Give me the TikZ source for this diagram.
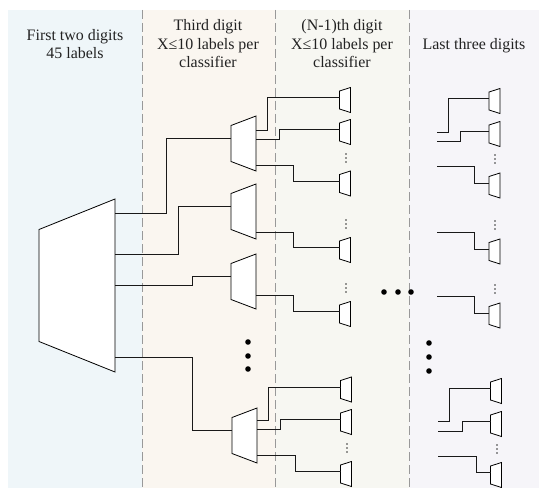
\documentclass[tikz,border=0pt]{standalone}
\usepackage{fontspec}
\setmainfont{Liberation Serif}
\usetikzlibrary{calc}
\definecolor{pA}{HTML}{EFF6F9}
\definecolor{pB}{HTML}{FAF6F0}
\definecolor{pC}{HTML}{F7F7F2}
\definecolor{pD}{HTML}{F6F5F9}
\definecolor{txt}{HTML}{222222}
\begin{document}
\begin{tikzpicture}[x=1bp,y=-1bp,line width=0.8bp,
  clf/.style={draw=black,fill=white,line join=miter},
  wire/.style={draw=black!90,line width=0.8bp},
  lbl/.style={align=center,font=\fontsize{16}{19}\selectfont,text=txt,inner sep=0pt},
  bigdot/.style={fill=black,circle,inner sep=0pt,minimum size=5.6bp},
  smalldot/.style={fill=black!80,circle,inner sep=0pt,minimum size=1.7bp},
  sep/.style={draw=black!40,line width=1bp,dash pattern=on 9bp off 4bp},
  smallclf/.pic={\path[clf] (-5.5,-9) -- (5.5,-12.5) -- (5.5,12.5) -- (-5.5,9) -- cycle;
     \coordinate (-in) at (-5.5,-2.5);},
  midclf/.pic={\path[clf] (-12.5,-18) -- (12.5,-27.5) -- (12.5,27.5) -- (-12.5,18) -- cycle;
     \coordinate (-in) at (-12.5,-5);
     \coordinate (-e) at (12.5,0);},
  bigclf/.pic={\path[clf] (-38,-56) -- (38,-86.5) -- (38,86.5) -- (-38,56) -- cycle;
     \coordinate (-e) at (38,0);},
  vdot/.pic={\node[smalldot] (-a) at (0,-4) {}; \node[smalldot] (-b) at (0,0) {}; \node[smalldot] (-c) at (0,4) {};}
]
\useasboundingbox (0,0) rectangle (539,488);
% panels
\fill[pA] (8,10) rectangle (142,488);
\fill[pB] (142,10) rectangle (275,488);
\fill[pC] (275,10) rectangle (409,488);
\fill[pD] (409,10) rectangle (539,488);
\draw[sep] (142,10) -- (142,488);
\draw[sep] (275,10) -- (275,488);
\draw[sep] (409,10) -- (409,488);
% headings (base anchor = baseline of last line)
\node[lbl,anchor=base] (h1) at (75,59) {First two digits\\45 labels};
\node[lbl,anchor=base] (h2) at (208,68) {Third digit\\X≤10 labels per\\classifier};
\node[lbl,anchor=base] (h3) at (342,68) {(N-1)th digit\\X≤10 labels per\\classifier};
\node[lbl,anchor=base] (h4) at (474,50) {Last three digits};
% first classifier
\pic (B) at (77,285.5) {bigclf};
% third-digit classifiers
\pic (m1) at (243.5,143.5) {midclf};
\pic (m2) at (243.5,211.5) {midclf};
\pic (m3) at (243.5,281.5) {midclf};
\pic (m4) at (244.5,435.5) {midclf};
% (N-1)th digit classifiers
\pic (a) at (345,100) {smallclf};
\pic (b) at (345,132) {smallclf};
\pic (c) at (345,183.5) {smallclf};
\pic (d) at (345,250) {smallclf};
\pic (e) at (345,314) {smallclf};
\pic (f) at (346,389.5) {smallclf};
\pic (g) at (346,422) {smallclf};
\pic (h) at (346,474) {smallclf};
% last digits classifiers
\pic (A) at (494.5,101) {smallclf};
\pic (Bb) at (494.5,134) {smallclf};
\pic (C) at (494.5,185.5) {smallclf};
\pic (D) at (494.5,251.5) {smallclf};
\pic (E) at (494.5,315.5) {smallclf};
\pic (F) at (496,391) {smallclf};
\pic (G) at (496,424) {smallclf};
\pic (H) at (496,475) {smallclf};
% wires: first -> third digit
\draw[wire] ($(B-e)+(0,-72.5)$) -- ++(51,0) |- (m1-in);
\draw[wire] ($(B-e)+(0,-31.5)$) -- ++(63,0) |- (m2-in);
\draw[wire] ($(B-e)+(0,-0.5)$) -- ++(77,0) |- (m3-in);
\draw[wire] ($(B-e)+(0,71.5)$) -- ++(77,0) |- (m4-in);
% third -> (N-1)th
\draw[wire] ($(m1-e)+(0,-13.5)$) -- ++(11,0) |- (a-in);
\draw[wire] ($(m1-e)+(0,-4.5)$) -- ++(23,0) |- (b-in);
\draw[wire] ($(m1-e)+(0,21.5)$) -- ++(37,0) |- (c-in);
\draw[wire] ($(m2-e)+(0,20.5)$) -- ++(37,0) |- (d-in);
\draw[wire] ($(m3-e)+(0,13.5)$) -- ++(37,0) |- (e-in);
\draw[wire] ($(m4-e)+(0,-15.5)$) -- ++(11,0) |- (f-in);
\draw[wire] ($(m4-e)+(0,-6.5)$) -- ++(23,0) |- (g-in);
\draw[wire] ($(m4-e)+(0,19.5)$) -- ++(38,0) |- (h-in);
% free wires into last column
\coordinate (sA) at (437,132);
\coordinate (sB) at (437,141);
\coordinate (sC) at (437,166);
\coordinate (sD) at (437,232);
\coordinate (sE) at (437,296);
\coordinate (sF) at (438,421);
\coordinate (sG) at (438,431);
\coordinate (sH) at (438,456);
\draw[wire] (sA) -- ++(11,0) |- (A-in);
\draw[wire] (sB) -- ++(23,0) |- (Bb-in);
\draw[wire] (sC) -- ++(37,0) |- (C-in);
\draw[wire] (sD) -- ++(37,0) |- (D-in);
\draw[wire] (sE) -- ++(37,0) |- (E-in);
\draw[wire] (sF) -- ++(11,0) |- (F-in);
\draw[wire] (sG) -- ++(24,0) |- (G-in);
\draw[wire] (sH) -- ++(38,0) |- (H-in);
% small vertical dots
\pic (v1) at (346,158) {vdot};
\pic (v2) at (346,224) {vdot};
\pic (v3) at (346,288) {vdot};
\pic (v4) at (347,448) {vdot};
\pic (w1) at (495,159) {vdot};
\pic (w2) at (495,225) {vdot};
\pic (w3) at (495,289) {vdot};
\pic (w4) at (497,449) {vdot};
% big dots
\node[bigdot] (d1) at (248,342) {};
\node[bigdot] (d2) at (248,356) {};
\node[bigdot] (d3) at (248,369) {};
\node[bigdot] (d4) at (384,292) {};
\node[bigdot] (d5) at (398,292) {};
\node[bigdot] (d6) at (411,292) {};
\node[bigdot] (d7) at (429,343) {};
\node[bigdot] (d8) at (429,357) {};
\node[bigdot] (d9) at (429,371) {};
\end{tikzpicture}
\end{document}
